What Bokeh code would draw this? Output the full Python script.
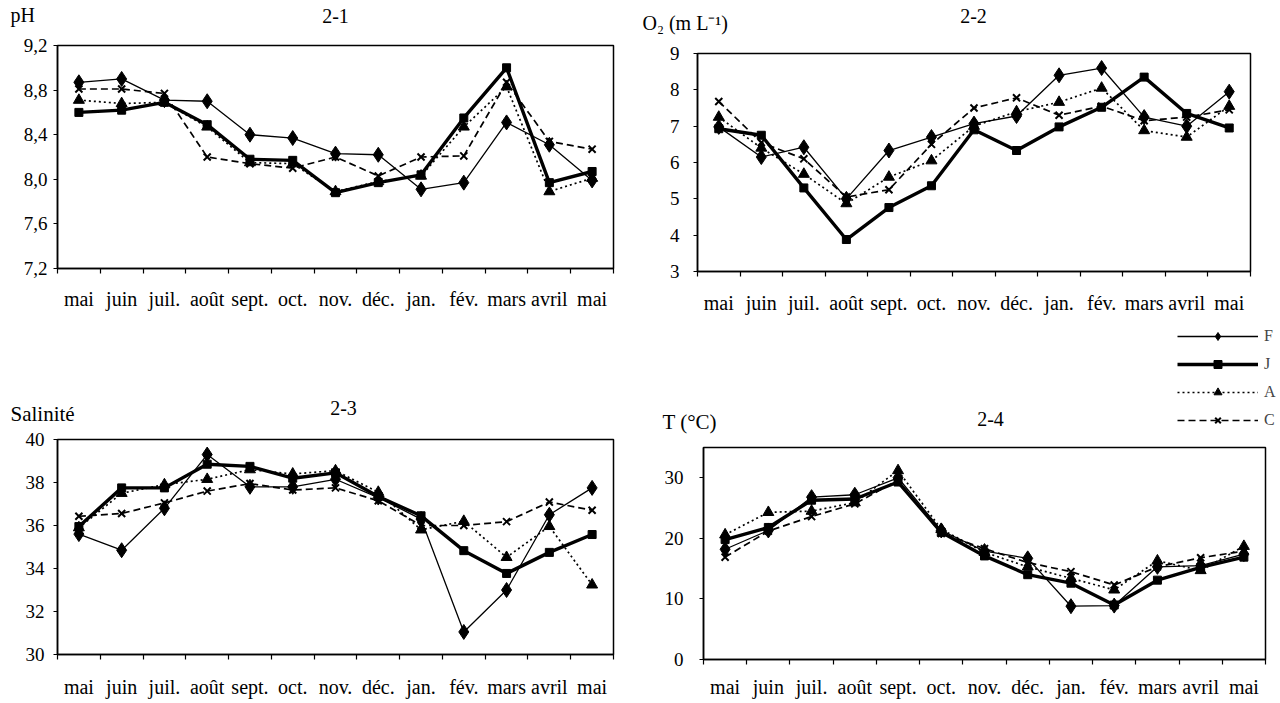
from bokeh.plotting import figure
from bokeh.layouts import row, column
from bokeh.models import (Range1d, FixedTicker, CustomJSTickFormatter, Label,
                          Legend, LegendItem)
from bokeh.embed import file_html
from bokeh.resources import INLINE

FONT = "Liberation Serif"
NAN = float("nan")

months = ["mai", "juin", "juil.", "août", "sept.", "oct.", "nov.", "déc.",
          "jan.", "fév.", "mars", "avril", "mai"]
series_names = ["F", "J", "A", "C"]

# 2-1 pH
ph_F = [8.87, 8.90, 8.71, 8.70, 8.40, 8.37, 8.23, 8.22, 7.91, 7.97, 8.51, 8.31, 7.99]
ph_J = [8.60, 8.62, 8.69, 8.49, 8.18, 8.17, 7.88, 7.97, 8.04, 8.55, 9.00, 7.97, 8.07]
ph_A = [8.71, 8.68, 8.69, 8.47, 8.15, 8.14, 7.89, 7.98, 8.03, 8.47, 8.83, 7.89, 8.01]
ph_C = [8.81, 8.81, 8.77, 8.20, 8.14, 8.10, 8.20, 8.03, 8.20, 8.21, 8.87, 8.34, 8.27]
ph_ticks = [7.2, 7.6, 8.0, 8.4, 8.8, 9.2]

# 2-2 O2 (mL/L)
o2_F = [6.98, 6.15, 6.42, 5.00, 6.33, 6.70, 7.07, 7.28, 8.40, 8.60, 7.25, 7.00, 7.95]
o2_J = [6.93, 6.75, 5.30, 3.88, 4.76, 5.36, 6.90, 6.33, 6.98, 7.52, 8.35, 7.35, 6.95]
o2_A = [7.25, 6.40, 5.68, 4.87, 5.60, 6.05, 7.00, 7.40, 7.66, 8.05, 6.88, 6.70, 7.55]
o2_C = [7.68, 6.55, 6.10, 5.05, 5.25, 6.50, 7.50, 7.78, 7.30, 7.55, 7.15, 7.25, 7.45]
o2_ticks = [3, 4, 5, 6, 7, 8, 9]

# 2-3 Salinité
sal_F = [35.6, 34.85, 36.8, 39.3, 37.8, 37.8, 38.15, 37.3, 36.3, 31.05, 33.0, 36.5, 37.75]
sal_J = [35.95, 37.75, 37.75, 38.85, 38.75, 38.2, 38.45, 37.35, 36.45, 34.83, 33.77, 34.75, 35.58]
sal_A = [35.9, 37.5, 37.9, 38.15, 38.6, 38.4, 38.55, 37.55, 35.8, 36.2, 34.52, 35.96, 33.24]
sal_C = [36.43, 36.56, 37.05, 37.6, 37.95, 37.65, 37.75, 37.15, 36.0, 36.0, 36.18, 37.09, 36.71]
sal_ticks = [30, 32, 34, 36, 38, 40]

# 2-4 T (°C)
t_F = [18.2, 21.3, 26.8, 27.2, 30.0, 21.3, 17.9, 16.7, 8.8, 8.9, 15.3, 15.5, 17.4]
t_J = [19.8, 21.8, 26.3, 26.5, 29.3, 21.0, 17.1, 14.0, 12.6, 9.0, 13.1, 15.2, 16.9]
t_A = [20.6, 24.3, 24.5, 25.9, 31.2, 21.5, 17.7, 15.3, 13.4, 11.5, 16.3, 14.7, 18.7]
t_C = [16.9, 21.2, 23.6, 25.7, 29.6, 20.8, 18.3, 16.0, 14.5, 12.3, 15.3, 16.8, 17.9]
t_ticks = [0, 10, 20, 30]

STYLES = {
    "F": dict(lw=1.3, dash="solid", marker="diamond", size=15, mlw=1),
    "J": dict(lw=3.4, dash="solid", marker="square", size=8, mlw=1),
    "A": dict(lw=1.7, dash="2 3", marker="triangle", size=11, mlw=1),
    "C": dict(lw=1.7, dash="7 4", marker="x", size=10, mlw=2),
}
DRAW_ORDER = ["A", "C", "F", "J"]
WL = 640
WR = 636


def make_panel(series, yr, yticks, ydec, width, height, borders,
               ylab_standoff, xlab_standoff):
    left, right, top, bottom = borders
    p = figure(width=width, height=height, output_backend="svg",
               toolbar_location=None, x_range=Range1d(-0.5, 12.5),
               y_range=Range1d(*yr), min_border_left=left,
               min_border_right=right, min_border_top=top,
               min_border_bottom=bottom, frame_align=False)
    p.xgrid.visible = False
    p.ygrid.visible = False
    p.outline_line_color = "black"
    p.outline_line_width = 1.5
    p.outline_line_alpha = 1
    p.background_fill_color = "white"
    p.border_fill_color = "white"

    xs = list(range(len(months)))
    xa = p.xaxis[0]
    xa.ticker = FixedTicker(ticks=xs, minor_ticks=[i - 0.5 for i in range(len(months) + 1)])
    xa.formatter = CustomJSTickFormatter(args=dict(labels=months),
                                         code="return labels[Math.round(tick)];")
    xa.major_tick_line_color = None
    xa.major_tick_out = 0
    xa.major_tick_in = 0
    xa.minor_tick_out = 5
    xa.minor_tick_in = 0
    xa.minor_tick_line_color = "black"
    xa.minor_tick_line_width = 1.2
    xa.axis_line_width = 1.5
    xa.major_label_standoff = xlab_standoff
    xa.major_label_text_font = FONT
    xa.major_label_text_font_size = "20px"
    xa.major_label_text_color = "black"

    ya = p.yaxis[0]
    ya.ticker = FixedTicker(ticks=yticks, minor_ticks=[])
    ya.formatter = CustomJSTickFormatter(
        code="return tick.toFixed(%d).replace('.', ',');" % ydec)
    ya.major_tick_out = 4
    ya.major_tick_in = 0
    ya.major_tick_line_width = 1.2
    ya.minor_tick_line_color = None
    ya.axis_line_width = 1.5
    ya.major_label_standoff = ylab_standoff
    ya.major_label_text_font = FONT
    ya.major_label_text_font_size = "19px"
    ya.major_label_text_color = "black"

    for name in DRAW_ORDER:
        st = STYLES[name]
        ys = series[name]
        p.line(xs, ys, line_color="black", line_width=st["lw"],
               line_dash=st["dash"])
        p.scatter(xs, ys, marker=st["marker"], size=st["size"],
                  fill_color="black", line_color="black",
                  line_width=st["mlw"])
    return p


def make_header(width, height):
    h = figure(width=width, height=height, output_backend="svg",
               toolbar_location=None, x_range=Range1d(0, width),
               y_range=Range1d(height, 0), x_axis_location=None,
               y_axis_location=None, min_border_left=0, min_border_right=0,
               min_border_top=0, min_border_bottom=0, frame_align=False)
    h.xgrid.visible = False
    h.ygrid.visible = False
    h.outline_line_color = None
    h.background_fill_color = "white"
    h.border_fill_color = "white"
    return h


def add_text(p, x, y, text, size="20px", align="left"):
    p.add_layout(Label(x=x, y=y, text=text,
                       text_font=FONT, text_font_size=size, text_color="black",
                       text_baseline="middle", text_align=align))


# ---- left column ----
h1 = make_header(WL, 33)
add_text(h1, 10, 14, "pH")
add_text(h1, 335, 15, "2-1", align="center")

p1 = make_panel(dict(F=ph_F, J=ph_J, A=ph_A, C=ph_C), (7.2, 9.2), ph_ticks, 1,
                WL, 280, (57, 27, 12, 45), 6, 14)

h3 = make_header(WL, 114)
add_text(h3, 10, 100, "Salinité", size="21px")
add_text(h3, 343, 94, "2-3", align="center")

p3 = make_panel(dict(F=sal_F, J=sal_J, A=sal_A, C=sal_C), (30, 40), sal_ticks, 0,
                WL, 273, (57, 27, 12, 40), 9, 16)

# ---- right column ----
h2 = make_header(WR, 41)
add_text(h2, 2, 22, "O₂ (m L⁻¹)")
add_text(h2, 333, 15, "2-2", align="center")

p2 = make_panel(dict(F=o2_F, J=o2_J, A=o2_A, C=o2_C), (3, 9), o2_ticks, 0,
                WR, 284, (57, 26, 12, 54), 14, 15)

h4 = make_header(WR, 110)
add_text(h4, 22, 96, "T (°C)", size="21px")
add_text(h4, 350, 93, "2-4", align="center")
items = []
for n in series_names:
    st = STYLES[n]
    ln = h4.line([NAN], [NAN], line_color="black", line_width=st["lw"],
                 line_dash=st["dash"])
    sc = h4.scatter([NAN], [NAN], marker=st["marker"], size=st["size"],
                    fill_color="black", line_color="black", line_width=st["mlw"])
    items.append(LegendItem(label=n, renderers=[ln, sc]))
legend = Legend(items=items, location=(537, 5), orientation="vertical",
                glyph_width=81, glyph_height=20, label_height=20, spacing=8,
                padding=0, margin=0, border_line_color=None,
                background_fill_alpha=0, label_text_font=FONT,
                label_text_font_size="16px", label_standoff=6)
h4.add_layout(legend)

p4 = make_panel(dict(F=t_F, J=t_J, A=t_A, C=t_C), (0, 35), t_ticks, 0,
                WR, 265, (63, 11, 12, 35), 16, 11)

layout = row(column(h1, p1, h3, p3), column(h2, p2, h4, p4))

open("out.html", "w").write(file_html(layout, INLINE))
